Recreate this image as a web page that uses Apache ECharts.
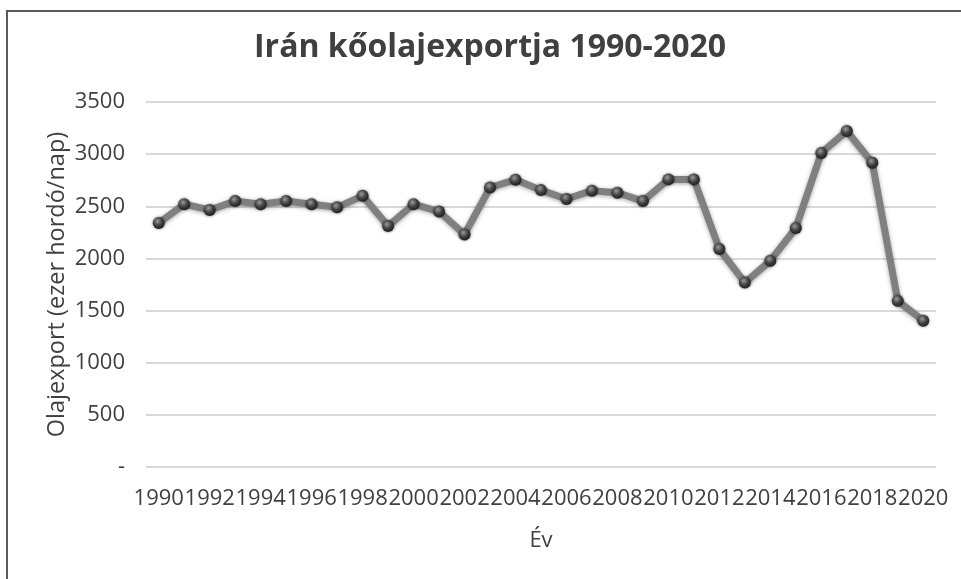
<!DOCTYPE html>
<html>
<head>
<meta charset="utf-8">
<script src="https://cdn.jsdelivr.net/npm/echarts@6/dist/echarts.min.js"></script>
<style>
html,body{margin:0;padding:0;background:#fff;}
#chart{width:961px;height:579px;}
</style>
</head>
<body>
<div id="chart"></div>
<script>
const titleText = 'Irán kőolajexportja 1990-2020';
const yAxisName = 'Olajexport (ezer hordó/nap)';
const xAxisName = 'Év';
const years = ['1990','1991','1992','1993','1994','1995','1996','1997','1998','1999','2000','2001','2002','2003','2004','2005','2006','2007','2008','2009','2010','2011','2012','2013','2014','2015','2016','2017','2018','2019','2020'];
const exportValues = [2340,2520,2465,2550,2520,2550,2520,2490,2600,2310,2520,2450,2230,2680,2755,2655,2570,2650,2630,2550,2758,2758,2090,1768,1978,2292,3012,3222,2918,1593,1402];
const yTicks = {min:0, max:3500, interval:500};

const chart = echarts.init(document.getElementById('chart'));
const font = 'Open Sans';
chart.setOption({
  animation:false,
  backgroundColor:'#fff',
  title:{
    text:titleText, left:249, top:27,
    textStyle:{fontFamily:font, fontSize:32, fontWeight:'bold', color:'#404040'}
  },
  graphic:[{
    type:'rect', silent:true,
    shape:{x:7, y:11, width:1200, height:1200},
    style:{fill:'none', stroke:'#5a5a5a', lineWidth:2}
  }],
  grid:{left:146, right:25, top:102, bottom:112, containLabel:false},
  xAxis:{
    type:'category', data:years, boundaryGap:true,
    name:xAxisName, nameLocation:'middle', nameGap:63,
    nameTextStyle:{fontFamily:font, fontSize:22, color:'#404040'},
    axisLine:{show:false}, axisTick:{show:false},
    axisLabel:{interval:1, showMinLabel:true, showMaxLabel:true, fontFamily:font, fontSize:22, color:'#404040', margin:21, hideOverlap:false}
  },
  yAxis:{
    type:'value', min:yTicks.min, max:yTicks.max, interval:yTicks.interval,
    name:yAxisName, nameLocation:'middle', nameGap:77, nameMoveOverlap:false,
    nameTextStyle:{fontFamily:font, fontSize:23.5, color:'#404040'},
    axisLine:{show:false}, axisTick:{show:false},
    axisLabel:{fontFamily:font, fontSize:22, color:'#404040', margin:21,
      formatter:v=> v===0 ? '-' : String(v)},
    splitLine:{lineStyle:{color:'#d9d9d9', width:2}}
  },
  series:[{
    type:'line', data:exportValues,
    symbol:'circle', symbolSize:12,
    lineStyle:{color:'#808080', width:7, shadowColor:'rgba(0,0,0,0.35)', shadowBlur:4, shadowOffsetY:1},
    itemStyle:{
      color:new echarts.graphic.RadialGradient(0.4,0.35,0.7,[
        {offset:0,color:'#9a9a9a'},{offset:0.5,color:'#444'},{offset:1,color:'#1a1a1a'}]),
      shadowColor:'rgba(0,0,0,0.5)', shadowBlur:3
    },
    z:3
  }]
});
</script>
</body>
</html>
